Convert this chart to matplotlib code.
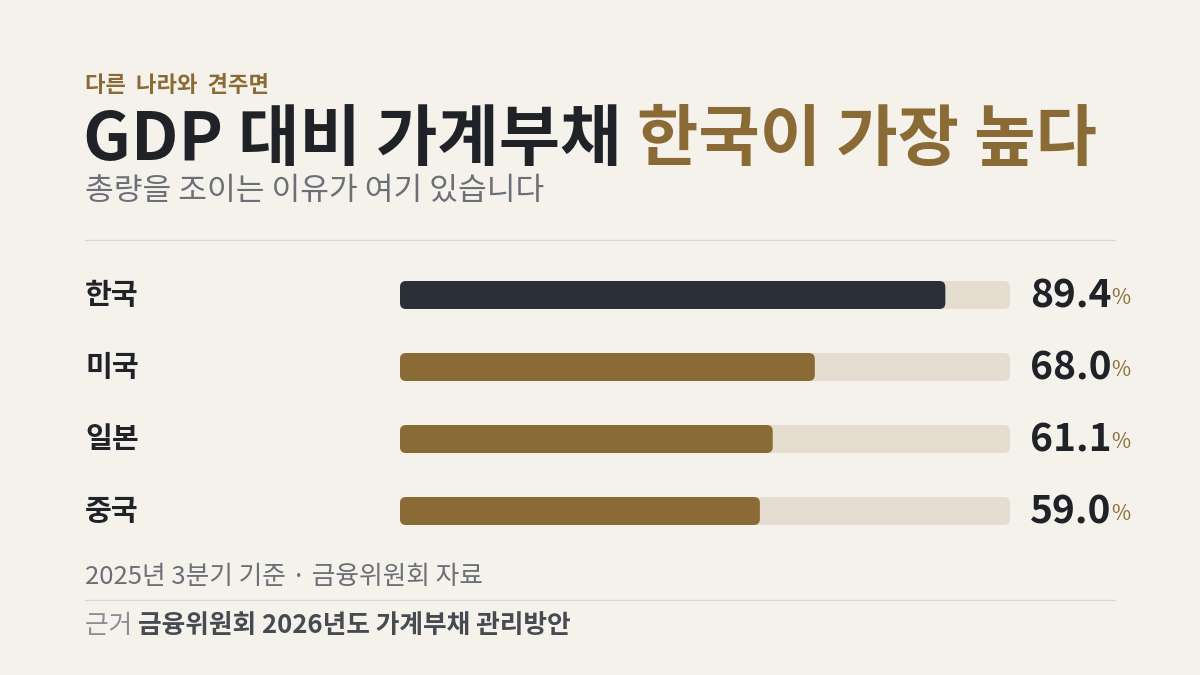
import matplotlib.pyplot as plt
from matplotlib.patches import FancyBboxPatch
from matplotlib.transforms import blended_transform_factory

plt.rcParams['font.family'] = ['Noto Sans CJK KR', 'DejaVu Sans']

# data
countries = ['한국', '미국', '일본', '중국']
values = [89.4, 68.0, 61.1, 59.0]
bar_colors = ['#2b3038', '#8a6a35', '#8a6a35', '#8a6a35']

kicker = '다른  나라와  견주면'
title_main = 'GDP 대비 가계부채 '
title_accent = '한국이 가장 높다'
subtitle = '총량을 조이는 이유가 여기 있습니다'
note = '2025년 3분기 기준 · 금융위원회 자료'
source_lead = '근거 '
source_name = '금융위원회 2026년도 가계부채 관리방안'

BG = '#f5f2ec'
TRACK = '#e5ddcf'
DARK = '#1f2328'
BROWN = '#8a6a35'
GRAY = '#6b6f76'

W, H = 1200, 675
fig = plt.figure(figsize=(12, 6.75), dpi=100, facecolor=BG)


def fx(px):
    return px / W


def fy(py):
    return 1 - py / H


# full-figure axes in pixel units for rules and chained text
base = fig.add_axes([0, 0, 1, 1])
base.set_xlim(0, W)
base.set_ylim(H, 0)
base.axis('off')
base.plot([85, 1115], [240, 240], color='#dcd7ce', lw=1)
base.plot([85, 1115], [600, 600], color='#dcd7ce', lw=1)

# header
base.text(85, 92, kicker, color=BROWN, fontsize=16, fontweight='bold', va='baseline')
t = base.text(83, 160, title_main, color=DARK, fontsize=48, fontweight='bold', va='baseline')
base.annotate(title_accent, xy=(1, 0), xycoords=t, color=BROWN, fontsize=48,
              fontweight='bold', va='bottom', ha='left')
base.text(85, 200, subtitle, color=GRAY, fontsize=22.5, va='baseline')

# bar area: x 400..1010 px, rows 259..547 px
ax_l, ax_r, ax_t, ax_b = 400, 1010, 259, 547
ax = fig.add_axes([fx(ax_l), fy(ax_b), (ax_r - ax_l) / W, (ax_b - ax_t) / H])
ax.set_xlim(0, 100)
ax.set_ylim(len(countries) - 0.5, -0.5)
ax.axis('off')

px_per_x = (ax_r - ax_l) / 100
px_per_y = (ax_b - ax_t) / len(countries)
bar_h = 28 / px_per_y
r = 6 / px_per_x
aspect = px_per_x / px_per_y
tr = blended_transform_factory(fig.transFigure, ax.transData)

for i, (c, v, col) in enumerate(zip(countries, values, bar_colors)):
    ax.add_patch(FancyBboxPatch((0, i - bar_h / 2), 100, bar_h,
                                boxstyle=f'round,pad=0,rounding_size={r}',
                                mutation_aspect=aspect, fc=TRACK, ec='none'))
    ax.add_patch(FancyBboxPatch((0, i - bar_h / 2), v, bar_h,
                                boxstyle=f'round,pad=0,rounding_size={r}',
                                mutation_aspect=aspect, fc=col, ec='none'))
    ax.text(fx(85), i, c, transform=tr, fontsize=21, fontweight='bold',
            color=DARK, va='center', ha='left')
    num = ax.text(fx(1030), i + 0.02, f'{v:.1f}', transform=tr, fontsize=28,
                  fontweight='bold', color=DARK, va='center', ha='left')
    ax.annotate('%', xy=(1, 0.17), xycoords=num, fontsize=15, color=BROWN,
                va='bottom', ha='left')

# footer
base.text(85, 584, note, color=GRAY, fontsize=18.5, va='baseline')
s = base.text(85, 633, source_lead, color='#8a8e94', fontsize=18.5, va='baseline')
base.annotate(source_name, xy=(1, 0), xycoords=s, color='#464a51', fontsize=18.5,
              fontweight='bold', va='bottom', ha='left')

fig.savefig('out.png', dpi=100, facecolor=BG)
